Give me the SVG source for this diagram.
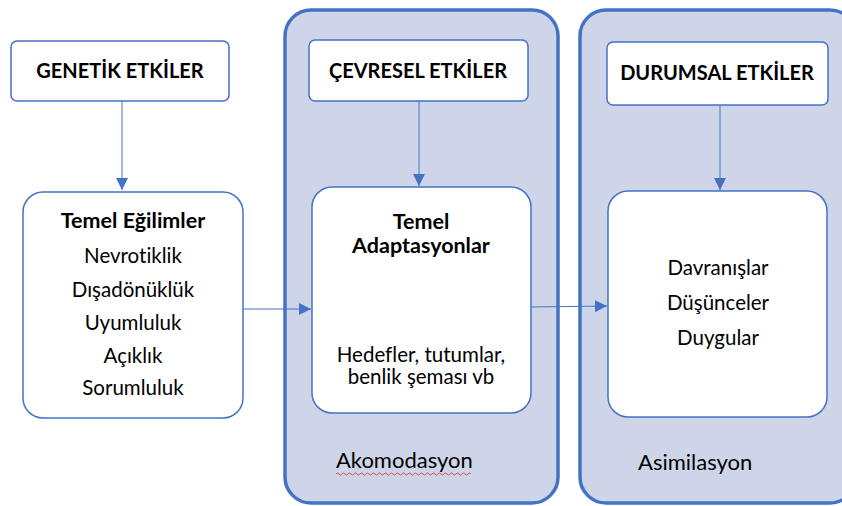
<svg xmlns="http://www.w3.org/2000/svg" width="842" height="506" viewBox="0 0 842 506">
<defs>
<style>
.cont{fill:#CFD5E8;stroke:#4472C4;stroke-width:3.5}
.box{fill:#fff;stroke:#4472C4;stroke-width:1.5}
.t{font-family:Lato,"Liberation Sans",sans-serif;fill:#000;text-anchor:middle;font-variant-ligatures:none}
.b{font-weight:bold;font-size:20px}
.bt{font-weight:bold;font-size:21.5px}
.r{font-size:20.5px}
.l{font-size:22px;text-anchor:start}
.con{stroke:#4472C4;stroke-width:1;fill:none;marker-end:url(#ah)}
</style>
<marker id="ah" viewBox="0 0 10 10" refX="10" refY="5" markerWidth="12" markerHeight="12" markerUnits="userSpaceOnUse" orient="auto">
<path d="M0,0 L10,5 L0,10 z" fill="#4472C4"/>
</marker>
</defs>
<rect width="842" height="506" fill="#fff"/>
<g id="akomodasyon">
<rect class="cont" x="285" y="10" width="273" height="493" rx="26"/>
<text class="t l" x="336" y="468">Akomodasyon</text>
<path d="M336,474 q1.5,-2 3,0 t3,0 t3,0 t3,0 t3,0 t3,0 t3,0 t3,0 t3,0 t3,0 t3,0 t3,0 t3,0 t3,0 t3,0 t3,0 t3,0 t3,0 t3,0 t3,0 t3,0 t3,0 t3,0 t3,0 t3,0 t3,0 t3,0 t3,0 t3,0 t3,0 t3,0 t3,0 t3,0 t3,0 t3,0 t3,0 t3,0 t3,0 t3,0 t3,0 t3,0 t3,0 t3,0 t3,0 t3,0" fill="none" stroke="#E03030" stroke-width="0.8"/>
</g>
<g id="asimilasyon">
<rect class="cont" x="580" y="10" width="276" height="493" rx="26"/>
<text class="t l" x="638" y="470">Asimilasyon</text>
</g>
<g id="genetik">
<rect class="box" x="11" y="41" width="218" height="60" rx="6"/>
<text class="t b" x="120" y="78">GENETİK ETKİLER</text>
</g>
<g id="cevresel">
<rect class="box" x="309" y="40" width="219" height="61" rx="6"/>
<text class="t b" x="418" y="78">ÇEVRESEL ETKİLER</text>
</g>
<g id="durumsal">
<rect class="box" x="607" y="42" width="221" height="63" rx="6"/>
<text class="t b" x="717" y="80">DURUMSAL ETKİLER</text>
</g>
<g id="egilimler">
<rect class="box" x="23" y="192" width="220" height="226" rx="20"/>
<text class="t bt" x="133" y="228">Temel Eğilimler</text>
<text class="t r" x="133" y="263">Nevrotiklik</text>
<text class="t r" x="133" y="297">Dışadönüklük</text>
<text class="t r" x="133" y="330">Uyumluluk</text>
<text class="t r" x="133" y="363">Açıklık</text>
<text class="t r" x="133" y="395">Sorumluluk</text>
</g>
<g id="adaptasyonlar">
<rect class="box" x="312" y="187" width="219" height="226" rx="20"/>
<text class="t bt" x="421" y="229">Temel</text>
<text class="t bt" x="421" y="253">Adaptasyonlar</text>
<text class="t r" x="421" y="362">Hedefler, tutumlar,</text>
<text class="t r" x="421" y="384">benlik şeması vb</text>
</g>
<g id="davranislar">
<rect class="box" x="608" y="191" width="219" height="226" rx="20"/>
<text class="t r" x="718" y="275">Davranışlar</text>
<text class="t r" x="718" y="310">Düşünceler</text>
<text class="t r" x="718" y="345">Duygular</text>
</g>
<g id="connectors">
<line class="con" x1="122" y1="101" x2="122" y2="190"/>
<line class="con" x1="419" y1="101" x2="419" y2="186"/>
<line class="con" x1="720" y1="105" x2="720" y2="190"/>
<line class="con" x1="243" y1="309" x2="311" y2="309"/>
<line class="con" x1="531" y1="307" x2="607" y2="306"/>
</g>
</svg>
